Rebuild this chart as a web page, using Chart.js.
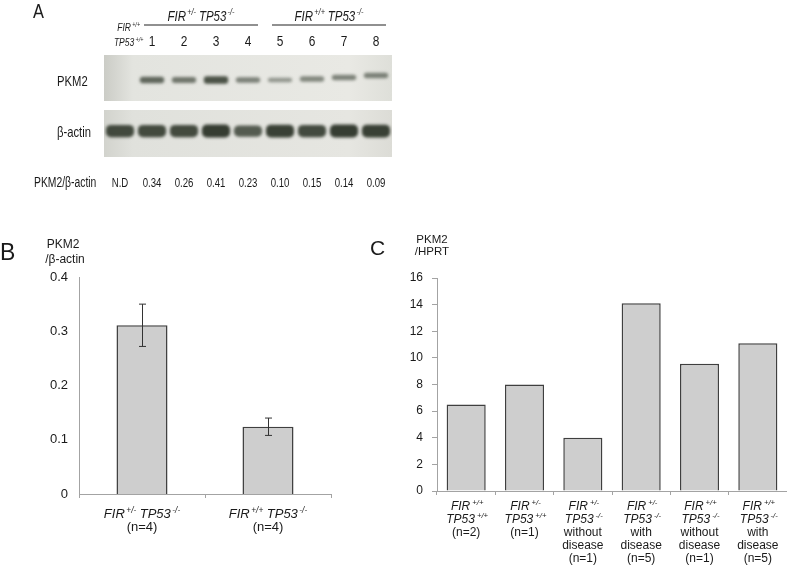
<!DOCTYPE html>
<html>
<head>
<meta charset="UTF-8">
<title>PKM2 expression</title>
<script src="https://cdn.jsdelivr.net/npm/chart.js"></script>
<style>
  body { margin: 0; background: #fff; width: 787px; height: 565px; position: relative; overflow: hidden; }
  .box { position: absolute; }
</style>
</head>
<body>
<div class="box" style="left:0;top:0;width:787px;height:200px"><canvas id="blot"></canvas></div>
<div class="box" style="left:0;top:230px;width:345px;height:335px"><canvas id="chartB"></canvas></div>
<div class="box" style="left:360px;top:228px;width:427px;height:337px"><canvas id="chartC"></canvas></div>
<script>
// ---- panel A: western blot lanes ----
const laneNumbers = ['', '1', '2', '3', '4', '5', '6', '7', '8'];
const laneRatios = ['N.D', '0.34', '0.26', '0.41', '0.23', '0.10', '0.15', '0.14', '0.09'];
const pkm2Density = [0, 0.75, 0.6, 0.95, 0.5, 0.3, 0.45, 0.5, 0.5];
const pkm2Drift = [0, 0, 0, 0, 0, 0, -1, -2.5, -4.5];
const actinDensity = [0.85, 0.85, 0.85, 1, 0.65, 0.95, 0.85, 1, 0.95];
const laneGroups = [
  { from: 1, to: 4, fir: '+/-', tp53: '-/-' },
  { from: 5, to: 8, fir: '+/+', tp53: '-/-' }
];

// ---- panel B: PKM2/beta-actin ----
const firB = ['+/-', '+/+'];
const tp53B = ['-/-', '-/-'];
const nB = [4, 4];
const meanB = [0.311, 0.124];
const sdB = [0.039, 0.016];

// ---- panel C: PKM2/HPRT ----
const firC = ['+/+', '+/-', '+/-', '+/-', '+/+', '+/+'];
const tp53C = ['+/+', '+/+', '-/-', '-/-', '-/-', '-/-'];
const diseaseC = ['', '', 'without', 'with', 'without', 'with'];
const nC = [2, 1, 1, 5, 1, 5];
const valuesC = [6.5, 8.0, 4.0, 14.1, 9.55, 11.1];

const FONT = '"Liberation Sans", Arial, sans-serif';
const BAR_FILL = '#cecece';
const BAR_EDGE = '#3f3f3f';
const AXIS = '#a3a3a3';
const INK = '#1a1a1a';

// draws text made of normal and superscript parts, centred on cx
function drawRich(ctx, parts, cx, y, size, italic, sx) {
  sx = sx || 1;
  const st = italic ? 'italic ' : '';
  const supSize = size * 0.64;
  let w = 0;
  parts.forEach(p => {
    ctx.font = st + (p.sup ? supSize : size) + 'px ' + FONT;
    p.w = ctx.measureText(p.t).width + (p.gap || 0);
    w += p.w;
  });
  ctx.save();
  ctx.translate(cx - w * sx / 2, y);
  ctx.scale(sx, 1);
  ctx.textAlign = 'left';
  ctx.textBaseline = 'alphabetic';
  let x = 0;
  parts.forEach(p => {
    ctx.font = st + (p.sup ? supSize : size) + 'px ' + FONT;
    ctx.fillText(p.t, x + (p.pre || 0), p.sup ? -size * 0.4 : 0);
    x += p.w;
  });
  ctx.restore();
}

function text(ctx, s, x, y, size, align, sx, style) {
  ctx.save();
  ctx.translate(x, y);
  ctx.scale(sx || 1, 1);
  ctx.font = (style || '') + size + 'px ' + FONT;
  ctx.textAlign = align || 'left';
  ctx.textBaseline = 'alphabetic';
  ctx.fillText(s, 0, 0);
  ctx.restore();
}

function genotype(fir, tp53) {
  return [
    { t: 'FIR' }, { t: fir, sup: true, pre: 1.5, gap: 5 },
    { t: 'TP53' }, { t: tp53, sup: true, pre: 1.5, gap: 1.5 }
  ];
}

// ---- panel A chart ----
const PKM2_ROW = 25, ACTIN_ROW = 76;
const blotPlugin = {
  id: 'blot',
  beforeDatasetsDraw(chart) {
    const { ctx, chartArea: a, scales: { y } } = chart;
    [[0, 46], [55, 102]].forEach((r, k) => {
      const top = y.getPixelForValue(r[0]), bot = y.getPixelForValue(r[1]);
      const g = ctx.createLinearGradient(a.left, 0, a.right, 0);
      g.addColorStop(0, k ? '#d2d3cd' : '#cbccc6');
      g.addColorStop(0.1, k ? '#e0e1dc' : '#e3e4df');
      g.addColorStop(0.85, k ? '#e6e6e1' : '#e9e9e4');
      g.addColorStop(1, k ? '#dcdcd6' : '#dedfd9');
      ctx.fillStyle = g;
      ctx.fillRect(a.left, top, a.width, bot - top);
    });
    ctx.filter = 'blur(1.8px)';
  },
  afterDatasetsDraw(chart) {
    chart.ctx.filter = 'none';
  },
  afterDraw(chart) {
    const { ctx, scales: { x } } = chart;
    ctx.fillStyle = INK;
    text(ctx, 'A', 33, 18, 21, 'left', 0.78);
    // group headers with rules
    laneGroups.forEach(g => {
      const x0 = x.getPixelForValue(g.from) - 8, x1 = x.getPixelForValue(g.to) + 10;
      ctx.strokeStyle = '#222';
      ctx.lineWidth = 1.2;
      ctx.beginPath();
      ctx.moveTo(x0, 25);
      ctx.lineTo(x1, 25);
      ctx.stroke();
      drawRich(ctx, genotype(g.fir, g.tp53), (x0 + x1) / 2, 21, 14, true, 0.82);
    });
    // control lane header
    const c0 = x.getPixelForValue(0) + 8;
    drawRich(ctx, [{ t: 'FIR' }, { t: '+/+', sup: true, pre: 1.5 }], c0, 31, 10, true, 0.85);
    drawRich(ctx, [{ t: 'TP53' }, { t: '+/+', sup: true, pre: 1.5 }], c0, 46, 10, true, 0.85);
    laneNumbers.forEach((s, i) => text(ctx, s, x.getPixelForValue(i), 46, 14, 'center', 0.85));
    text(ctx, 'PKM2', 57, 86, 15, 'left', 0.75);
    text(ctx, '\u03b2-actin', 57, 137, 15, 'left', 0.75);
    text(ctx, 'PKM2/\u03b2-actin', 34, 187, 14, 'left', 0.74);
    laneRatios.forEach((s, i) => text(ctx, s, x.getPixelForValue(i), 187, 13, 'center', 0.74));
  }
};

function bandData(density, row, drift, base, span) {
  return density.map((d, i) => {
    if (!d) return null;
    const h = base + span * d;
    const c = row + (drift ? drift[i] : 0);
    return [c - h / 2, c + h / 2];
  });
}

new Chart(document.getElementById('blot'), {
  type: 'bar',
  data: {
    labels: laneNumbers,
    datasets: [
      {
        data: bandData(pkm2Density, PKM2_ROW, pkm2Drift, 3.5, 4),
        backgroundColor: pkm2Density.map(d => 'rgba(48,56,44,' + (0.28 + 0.6 * d).toFixed(2) + ')'),
        barPercentage: 0.76, categoryPercentage: 1, borderRadius: 3, borderSkipped: false, grouped: false
      },
      {
        data: bandData(actinDensity, ACTIN_ROW, null, 8, 5),
        backgroundColor: actinDensity.map(d => 'rgba(44,52,40,' + (0.45 + 0.5 * d).toFixed(2) + ')'),
        barPercentage: 0.88, categoryPercentage: 1, borderRadius: 5, borderSkipped: false, grouped: false
      }
    ]
  },
  options: {
    responsive: true, maintainAspectRatio: false, animation: false,
    layout: { padding: { left: 104, right: 395, top: 55, bottom: 43 } },
    plugins: { legend: { display: false }, tooltip: { enabled: false } },
    scales: {
      x: { display: false, offset: true },
      y: { display: false, min: 0, max: 102, reverse: true }
    }
  },
  plugins: [blotPlugin]
});

// ---- panel B chart ----
const panelBPlugin = {
  id: 'panelB',
  afterDatasetsDraw(chart) {
    const { ctx, scales: { x, y } } = chart;
    ctx.save();
    ctx.strokeStyle = '#333';
    ctx.lineWidth = 1;
    meanB.forEach((m, i) => {
      const px = Math.round(x.getPixelForValue(i)) + 0.5;
      const t = y.getPixelForValue(m + sdB[i]), b = y.getPixelForValue(m - sdB[i]);
      ctx.beginPath();
      ctx.moveTo(px, t); ctx.lineTo(px, b);
      ctx.moveTo(px - 3.5, t); ctx.lineTo(px + 3.5, t);
      ctx.moveTo(px - 3.5, b); ctx.lineTo(px + 3.5, b);
      ctx.stroke();
    });
    ctx.restore();
  },
  afterDraw(chart) {
    const { ctx, scales: { x } } = chart;
    ctx.fillStyle = INK;
    text(ctx, 'B', 0, 30, 23, 'left');
    text(ctx, 'PKM2', 63, 18, 12, 'center');
    text(ctx, '/\u03b2-actin', 65, 33, 12, 'center');
    firB.forEach((f, i) => {
      const px = x.getPixelForValue(i);
      drawRich(ctx, genotype(f, tp53B[i]), px, 288, 13, true);
      text(ctx, '(n=' + nB[i] + ')', px, 301, 13, 'center');
    });
  }
};

new Chart(document.getElementById('chartB'), {
  type: 'bar',
  data: {
    labels: firB,
    datasets: [{
      data: meanB,
      backgroundColor: BAR_FILL, borderColor: BAR_EDGE, borderWidth: 1.5,
      barPercentage: 0.405, categoryPercentage: 1
    }]
  },
  options: {
    responsive: true, maintainAspectRatio: false, animation: false,
    layout: { padding: { left: 0, right: 14, top: 47, bottom: 0 } },
    plugins: { legend: { display: false }, tooltip: { enabled: false } },
    scales: {
      x: {
        afterFit: s => { s.height = 71; },
        ticks: { display: false },
        grid: { drawOnChartArea: false, tickLength: 4, color: AXIS, offset: true },
        border: { color: AXIS, width: 1 }
      },
      y: {
        min: 0, max: 0.4,
        afterFit: s => { s.width = 79; },
        ticks: {
          stepSize: 0.1, padding: 11, color: INK,
          font: { family: FONT, size: 13 },
          callback: v => (v === 0 ? '0' : v.toFixed(1))
        },
        grid: { display: false, drawTicks: false },
        border: { color: AXIS, width: 1 }
      }
    }
  },
  plugins: [panelBPlugin]
});

// ---- panel C chart ----
const panelCPlugin = {
  id: 'panelC',
  afterDraw(chart) {
    const { ctx, scales: { x } } = chart;
    ctx.fillStyle = INK;
    text(ctx, 'C', 10, 27, 21, 'left');
    text(ctx, 'PKM2', 72, 15, 11.5, 'center');
    text(ctx, '/HPRT', 72, 27, 11.5, 'center');
    firC.forEach((f, i) => {
      const px = x.getPixelForValue(i);
      drawRich(ctx, [{ t: 'FIR' }, { t: f, sup: true, pre: 2 }], px, 282, 12, true);
      drawRich(ctx, [{ t: 'TP53' }, { t: tp53C[i], sup: true, pre: 2 }], px, 295, 12, true);
      const lines = diseaseC[i] ? [diseaseC[i], 'disease'] : [];
      lines.push('(n=' + nC[i] + ')');
      lines.forEach((s, k) => text(ctx, s, px, 308 + 13 * k, 12, 'center'));
    });
  }
};

new Chart(document.getElementById('chartC'), {
  type: 'bar',
  data: {
    labels: firC,
    datasets: [{
      data: valuesC,
      backgroundColor: BAR_FILL, borderColor: BAR_EDGE, borderWidth: 1.5,
      barPercentage: 0.67, categoryPercentage: 1
    }]
  },
  options: {
    responsive: true, maintainAspectRatio: false, animation: false,
    layout: { padding: { left: 0, right: 0, top: 50, bottom: 0 } },
    plugins: { legend: { display: false }, tooltip: { enabled: false } },
    scales: {
      x: {
        afterFit: s => { s.height = 74; },
        ticks: { display: false },
        grid: { drawOnChartArea: false, tickLength: 4, color: AXIS, offset: true },
        border: { color: AXIS, width: 1 }
      },
      y: {
        min: 0, max: 16,
        afterFit: s => { s.width = 77; },
        ticks: {
          stepSize: 2, padding: 9, color: INK,
          font: { family: FONT, size: 12 }
        },
        grid: { drawOnChartArea: false, tickLength: 5, color: AXIS },
        border: { color: AXIS, width: 1 }
      }
    }
  },
  plugins: [panelCPlugin]
});
</script>
</body>
</html>
